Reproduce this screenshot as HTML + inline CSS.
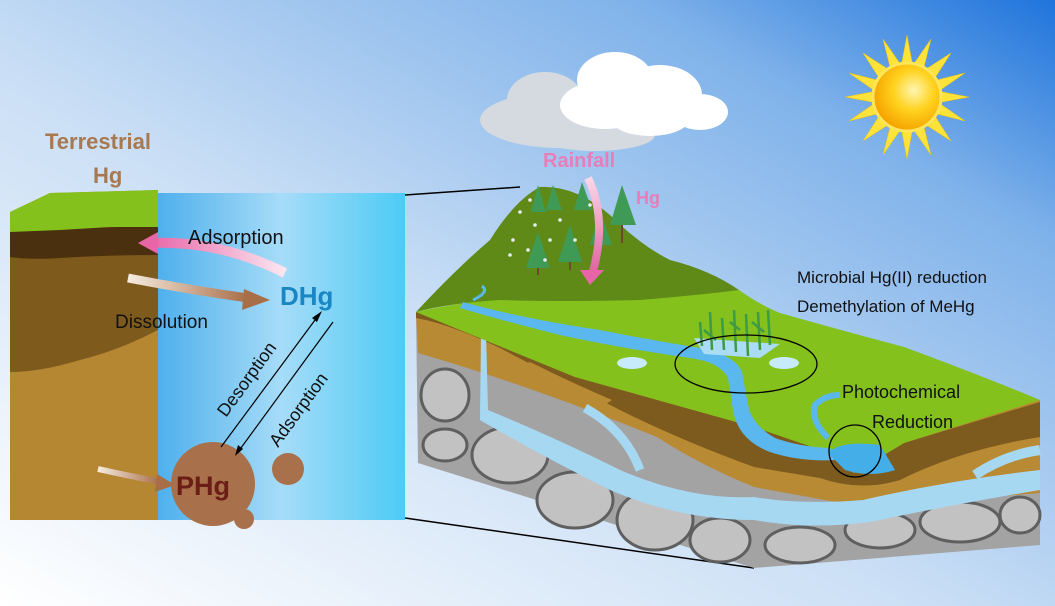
<!DOCTYPE html>
<html><head><meta charset="utf-8"><style>
html,body{margin:0;padding:0;width:1055px;height:606px;overflow:hidden}
svg{display:block}
text{font-family:"Liberation Sans",sans-serif}
</style></head><body>
<svg width="1055" height="606" viewBox="0 0 1055 606" xmlns="http://www.w3.org/2000/svg">
<defs>
<linearGradient id="sky" x1="0" y1="1" x2="1" y2="0">
<stop offset="0" stop-color="#ffffff"/><stop offset="0.45" stop-color="#c9def5"/><stop offset="0.8" stop-color="#7fb2ea"/><stop offset="1" stop-color="#1f74dc"/>
</linearGradient>
<linearGradient id="water" x1="0" y1="0" x2="1" y2="0">
<stop offset="0" stop-color="#4fb0ec"/><stop offset="0.5" stop-color="#a6dcf8"/><stop offset="1" stop-color="#4ccbf5"/>
</linearGradient>
<linearGradient id="pink" x1="1" y1="0" x2="0" y2="0">
<stop offset="0" stop-color="#fbe6f0"/><stop offset="1" stop-color="#e866a8"/>
</linearGradient>
<linearGradient id="brownA" x1="0" y1="0" x2="1" y2="0">
<stop offset="0" stop-color="#f6ece0"/><stop offset="1" stop-color="#a86e48"/>
</linearGradient>
<linearGradient id="rainA" x1="0" y1="0" x2="0" y2="1">
<stop offset="0" stop-color="#fbd8e8"/><stop offset="1" stop-color="#e060a0"/>
</linearGradient>
<radialGradient id="sun" cx="0.6" cy="0.4" r="0.6">
<stop offset="0" stop-color="#fff6b0"/><stop offset="0.5" stop-color="#ffd21e"/><stop offset="1" stop-color="#f5a500"/>
</radialGradient>
</defs>
<rect width="1055" height="606" fill="url(#sky)"/>

<!-- sun -->
<g transform="translate(907,97)">
<g fill="#ffe23a" stroke="#f4c400" stroke-width="0.5">
<polygon points="0,-62 6,-30 -6,-30"/><polygon points="0,62 6,30 -6,30"/>
<polygon points="-62,0 -30,6 -30,-6"/><polygon points="62,0 30,6 30,-6"/>
<polygon points="44,-44 26,-16 16,-26"/><polygon points="-44,44 -26,16 -16,26"/>
<polygon points="-44,-44 -26,-16 -16,-26"/><polygon points="44,44 26,16 16,26"/>
<polygon points="24,-58 16,-26 6,-32" /><polygon points="-24,58 -16,26 -6,32"/>
<polygon points="-24,-58 -6,-32 -16,-26"/><polygon points="24,58 6,32 16,26"/>
<polygon points="58,-24 32,-6 26,-16"/><polygon points="-58,24 -32,6 -26,16"/>
<polygon points="-58,-24 -32,-6 -26,-16"/><polygon points="58,24 32,6 26,16"/>
</g>
<circle r="34" fill="url(#sun)" stroke="#ffe55a" stroke-width="3"/>
</g>

<!-- cloud -->
<g fill="#d5dae0">
<ellipse cx="560" cy="120" rx="80" ry="28"/><ellipse cx="545" cy="100" rx="38" ry="28"/><ellipse cx="595" cy="135" rx="60" ry="16"/>
</g>
<g fill="#fff">
<ellipse cx="615" cy="80" rx="38" ry="28"/><ellipse cx="660" cy="95" rx="42" ry="30"/><ellipse cx="605" cy="105" rx="45" ry="24"/><ellipse cx="700" cy="112" rx="28" ry="18"/><ellipse cx="650" cy="118" rx="40" ry="18"/>
</g>

<!-- left panel soil -->
<polygon points="10,212 50,193 158,190 158,520 10,520" fill="#b58732"/>
<path d="M10,225 L158,222 L158,330 Q120,350 80,360 Q40,372 10,372 Z" fill="#7e5a1c"/>
<path d="M10,230 L158,226 L158,255 Q110,255 60,258 Q30,260 10,257 Z" fill="#4a300e"/>
<polygon points="10,212 50,193 158,190 158,227 110,227 60,230 10,232" fill="#84c11c"/>
<rect x="158" y="193" width="247" height="327" fill="url(#water)"/>

<!-- left labels & arrows -->
<path d="M285,273 Q220,240 150,243" stroke="url(#pink)" stroke-width="10" fill="none"/>
<polygon points="138,243 158,232 158,254" fill="#e866a8"/>
<path d="M128,278 Q190,290 248,298" stroke="url(#brownA)" stroke-width="9" fill="none"/>
<polygon points="270,300 244,289 242,310" fill="#a86e48"/>
<path d="M98,469 Q130,476 160,482" stroke="url(#brownA)" stroke-width="6" fill="none"/>
<polygon points="175,485 157,474 155,492" fill="#a86e48"/>
<text x="188" y="244" font-size="20" fill="#111">Adsorption</text>
<text x="115" y="328" font-size="19" fill="#111">Dissolution</text>
<text x="280" y="305" font-size="26" font-weight="bold" fill="#1a87c4">DHg</text>
<circle cx="213" cy="484" r="42" fill="#a8714b"/>
<circle cx="288" cy="469" r="16" fill="#a8714b"/>
<circle cx="244" cy="519" r="10" fill="#a8714b"/>
<text x="176" y="495" font-size="27" font-weight="bold" fill="#6b1e16">PHg</text>
<line x1="221" y1="447" x2="318" y2="316" stroke="#000" stroke-width="1.2"/>
<polygon points="322,311 312,318 317,322" fill="#000"/>
<line x1="333" y1="322" x2="238" y2="452" stroke="#000" stroke-width="1.2"/>
<polygon points="235,456 238,445 243,449" fill="#000"/>
<text transform="translate(226,418) rotate(-54)" font-size="18" fill="#111">Desorption</text>
<text transform="translate(278,448) rotate(-54)" font-size="18" fill="#111">Adsorption</text>
<text x="45" y="149" font-size="22" font-weight="bold" fill="#a87850">Terrestrial</text>
<text x="93" y="183" font-size="22" font-weight="bold" fill="#a87850">Hg</text>

<!-- zoom lines -->
<line x1="405" y1="195" x2="520" y2="187" stroke="#000" stroke-width="1.5"/>
<line x1="405" y1="518" x2="754" y2="568" stroke="#000" stroke-width="1.5"/>

<!-- right block: rock -->
<polygon points="416,312 754,427 1040,400 1040,545 754,568 418,463" fill="#a3a3a3"/>
<g fill="#c2c2c2" stroke="#5f5f5f" stroke-width="3">
<ellipse cx="445" cy="395" rx="24" ry="26"/><ellipse cx="445" cy="445" rx="22" ry="16"/><ellipse cx="510" cy="455" rx="38" ry="28"/>
<ellipse cx="575" cy="500" rx="38" ry="28"/><ellipse cx="655" cy="520" rx="38" ry="30"/><ellipse cx="720" cy="540" rx="30" ry="22"/>
<ellipse cx="800" cy="545" rx="35" ry="18"/><ellipse cx="880" cy="530" rx="35" ry="18"/><ellipse cx="960" cy="522" rx="40" ry="20"/><ellipse cx="1020" cy="515" rx="20" ry="18"/>
</g>
<!-- light brown soil -->
<path d="M416,312 L754,427 L1040,400 L1040,493 Q950,500 863,507 L754,487 Q700,465 657,437 Q590,410 533,390 Q470,368 418,353 Z" fill="#b88a33"/>
<!-- dark brown layer -->
<path d="M416,312 L575,377 L754,427 L821,450 L854,473 L904,443 L1040,402 L1040,437 Q960,450 900,480 Q860,492 820,478 L754,467 Q680,440 620,410 Q560,380 500,348 Q450,324 416,318 Z" fill="#7d5a1e"/>
<path d="M520,366 Q560,392 600,408 L612,400 Q570,382 530,362 Z" fill="#b88a33"/>
<!-- underground water -->
<path d="M481,333 L486,333 L488,410 Q560,440 620,470 Q690,500 754,497 Q800,505 863,500 Q950,480 1040,470 L1040,490 Q950,505 870,522 Q810,530 754,520 Q680,520 610,490 Q540,455 480,420 Z" fill="#a7d8f2"/>
<path d="M585,408 Q625,430 640,470" stroke="#a7d8f2" stroke-width="9" fill="none"/>
<path d="M975,475 Q1005,455 1040,450" stroke="#a7d8f2" stroke-width="10" fill="none"/>
<!-- green surface -->
<path d="M416,312 Q470,300 520,298 Q620,296 739,290 Q760,305 780,313 Q840,330 904,347 Q980,375 1040,400 L904,443 L854,473 L821,450 L754,427 L575,377 Z" fill="#84c11c"/>
<!-- hill -->
<path d="M416,312 Q455,270 490,240 Q515,200 540,187 Q575,185 610,215 Q640,245 670,260 Q710,270 739,290 Q700,295 640,300 Q560,302 500,300 Q450,303 416,312 Z" fill="#5f8a18"/>
<!-- river -->
<path d="M463,302 Q520,318 600,330 Q650,340 700,348 Q735,355 742,372 L748,405 Q752,425 775,438 Q800,447 830,448 L835,460 Q800,462 770,452 Q738,440 733,410 L728,378 Q720,362 690,358 Q620,348 560,335 Q500,320 460,308 Z" fill="#5ab8ef"/>
<path d="M473,300 Q490,292 482,286" stroke="#5ab8ef" stroke-width="3" fill="none"/>
<path d="M828,438 Q810,420 815,405 Q825,395 840,395" stroke="#5ab8ef" stroke-width="6" fill="none"/>
<path d="M828,453 Q840,440 880,445 L895,470 Q870,478 845,470 Z" fill="#44aee8"/>
<ellipse cx="632" cy="363" rx="15" ry="6" fill="#c8ebfc"/>
<ellipse cx="784" cy="363" rx="15" ry="6" fill="#c8ebfc"/>
<!-- reeds -->
<polygon points="694,338 780,344 760,358 704,354" fill="#aadcf5"/>
<g stroke="#3d9a45" stroke-width="2.5">
<path d="M700,322 L702,346 M710,312 L712,350 M722,318 L724,350 M734,310 L736,352 M746,314 L748,356 M758,312 L760,350 M768,310 L770,345 M704,330 L716,340 M730,322 L740,330 M752,322 L764,332"/>
</g>
<!-- trees -->
<g fill="#3f9a56">
<polygon points="538,232 526,268 550,268"/><polygon points="570,225 558,262 582,262"/><polygon points="600,210 590,245 612,245"/>
<polygon points="622,185 610,225 636,225"/><polygon points="582,182 574,210 592,210"/><polygon points="553,185 546,210 562,210"/>
<polygon points="538,185 531,212 546,212"/>
</g>
<g stroke="#6b4a2a" stroke-width="2"><line x1="538" y1="268" x2="538" y2="275"/><line x1="570" y1="262" x2="570" y2="270"/><line x1="622" y1="225" x2="622" y2="243"/></g>
<g fill="#e6edf2">
<circle cx="520" cy="212" r="1.8"/><circle cx="535" cy="225" r="1.8"/><circle cx="550" cy="240" r="1.8"/><circle cx="513" cy="240" r="1.8"/>
<circle cx="528" cy="250" r="1.8"/><circle cx="560" cy="220" r="1.8"/><circle cx="575" cy="240" r="1.8"/><circle cx="590" cy="205" r="1.8"/>
<circle cx="510" cy="255" r="1.8"/><circle cx="545" cy="260" r="1.8"/><circle cx="600" cy="230" r="1.8"/><circle cx="530" cy="200" r="1.8"/>
</g>
<path d="M588,178 Q608,220 592,275" stroke="url(#rainA)" stroke-width="8" fill="none"/>
<polygon points="580,270 604,270 590,285" fill="#e866a8"/>
<text x="543" y="167" font-size="20" font-weight="bold" fill="#e77eb9">Rainfall</text>
<text x="636" y="204" font-size="18" font-weight="bold" fill="#e77eb9">Hg</text>

<!-- ellipses / labels -->
<ellipse cx="746" cy="364" rx="71" ry="29" fill="none" stroke="#000" stroke-width="1.3"/>
<ellipse cx="855" cy="451" rx="26" ry="26" fill="none" stroke="#000" stroke-width="1.3"/>
<text x="797" y="283" font-size="17" fill="#111">Microbial Hg(II) reduction</text>
<text x="797" y="312" font-size="17" fill="#111">Demethylation of MeHg</text>
<text x="842" y="398" font-size="18" fill="#111">Photochemical</text>
<text x="872" y="428" font-size="18" fill="#111">Reduction</text>
</svg>
</body></html>
